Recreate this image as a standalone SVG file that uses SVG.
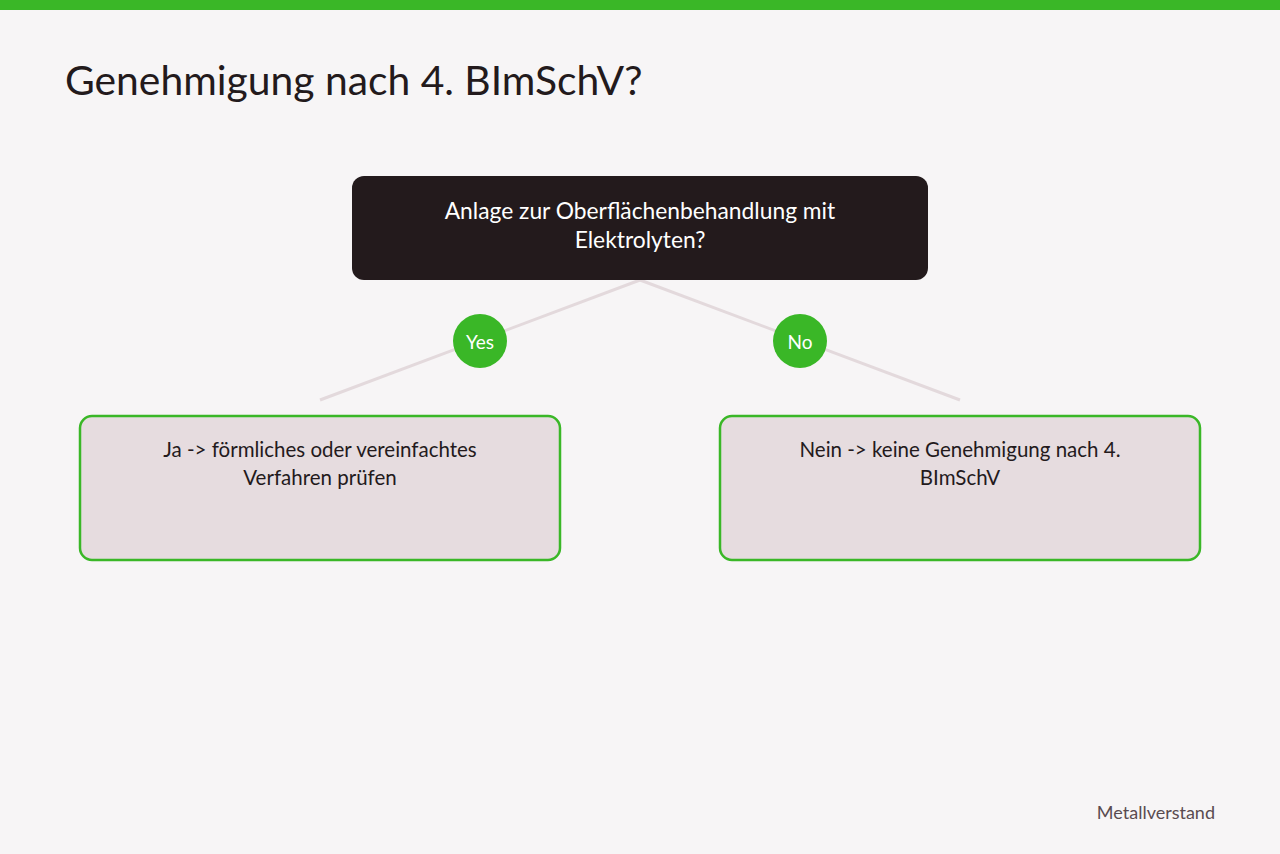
<svg xmlns="http://www.w3.org/2000/svg" width="1280" height="854" viewBox="0 0 1280 854">
<style>
text{font-family:Lato,"Noto Sans","Liberation Sans",sans-serif}
.t{text-anchor:middle;dominant-baseline:central}
.q{fill:#ffffff;font-size:22.8px}
.a{fill:#231a1c;font-size:20.5px}
.lbl{fill:#ffffff;font-size:19px;text-anchor:middle;dominant-baseline:central}
.box{fill:#e6dcdf;stroke:#3ab727;stroke-width:2.5}
.edge{stroke:#e3d9dc;stroke-width:3;fill:none}
.badge{fill:#3ab727}
</style>
<rect width="1280" height="854" fill="#f7f5f6"/>
<rect width="1280" height="10" fill="#3ab727"/>
<text x="65" y="95" font-size="40.8" fill="#231a1c">Genehmigung nach 4. BImSchV?</text>
<g id="connectors">
<line class="edge" x1="640" y1="280" x2="320" y2="400"/>
<line class="edge" x1="640" y1="280" x2="960" y2="400"/>
<g id="yes-label"><circle class="badge" cx="480" cy="341" r="27"/><text class="lbl" x="480" y="341">Yes</text></g>
<g id="no-label"><circle class="badge" cx="800" cy="341" r="27"/><text class="lbl" x="800" y="341">No</text></g>
</g>
<g id="question">
<rect x="352" y="176" width="576" height="104" rx="12" fill="#231a1c"/>
<text class="t q" x="640" y="210">Anlage zur Oberflächenbehandlung mit</text>
<text class="t q" x="640" y="239">Elektrolyten?</text>
</g>
<g id="yes-node">
<rect class="box" x="80" y="416" width="480" height="144" rx="12"/>
<text class="t a" x="320" y="449">Ja -&gt; förmliches oder vereinfachtes</text>
<text class="t a" x="320" y="477">Verfahren prüfen</text>
</g>
<g id="no-node">
<rect class="box" x="720" y="416" width="480" height="144" rx="12"/>
<text class="t a" x="960" y="449">Nein -&gt; keine Genehmigung nach 4.</text>
<text class="t a" x="960" y="477">BImSchV</text>
</g>
<text x="1215" y="819" font-size="18" fill="#5a4b50" text-anchor="end">Metallverstand</text>
</svg>
